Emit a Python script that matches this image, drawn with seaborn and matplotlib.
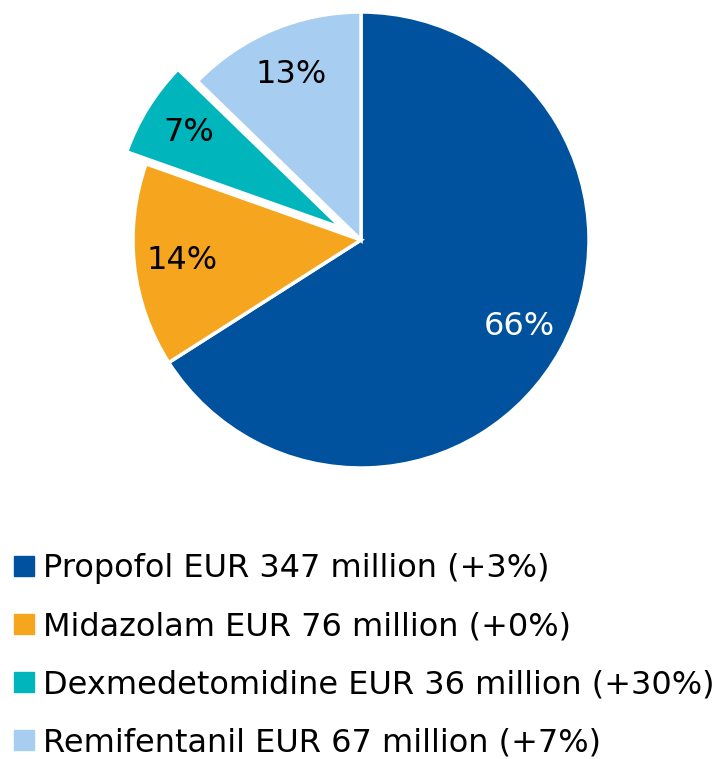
import matplotlib.pyplot as plt
from matplotlib.lines import Line2D
import seaborn as sns

drugs = ['Propofol', 'Midazolam', 'Dexmedetomidine', 'Remifentanil']
sales_eur_m = [347, 76, 36, 67]
growth = ['+3%', '+0%', '+30%', '+7%']
colours = sns.color_palette(['#00529F', '#F6A51F', '#00B5BB', '#A7CDF1'])

sns.set_theme(style='white')
plt.rcParams['font.family'] = ['DejaVu Sans']

fig = plt.figure(figsize=(7.22, 7.59), dpi=100)

# pie centre at (361, 240) px, radius 228 px
r_px = 228
lim = 1.2
ax = fig.add_axes([(361 - r_px * lim) / 722, (759 - 240 - r_px * lim) / 759,
                   2 * r_px * lim / 722, 2 * r_px * lim / 759])

wedges, texts, autotexts = ax.pie(sales_eur_m,
                                  colors=colours,
                                  startangle=90,
                                  counterclock=False,
                                  explode=[0, 0, 0.1, 0],
                                  autopct='%1.0f%%',
                                  pctdistance=0.79,
                                  wedgeprops=dict(edgecolor='white', linewidth=2.5),
                                  textprops=dict(fontsize=23, color='black'))
autotexts[0].set_color('white')
ax.set_xlim(-lim, lim)
ax.set_ylim(-lim, lim)
ax.set_aspect('equal')
ax.axis('off')

handles = [Line2D([], [], marker='s', linestyle='none', markersize=14.5,
                  markerfacecolor=c, markeredgecolor=c) for c in colours]
labels = [f'{d} EUR {v} million ({g})' for d, v, g in zip(drugs, sales_eur_m, growth)]
fig.legend(handles, labels,
           loc='upper left',
           bbox_to_anchor=(14 / 722, 1 - 553 / 759),
           frameon=False,
           fontsize=23,
           labelcolor='black',
           handlelength=0.62,
           handletextpad=0.3,
           labelspacing=0.85,
           borderaxespad=0,
           borderpad=0)

fig.savefig('out.png', dpi=100)
